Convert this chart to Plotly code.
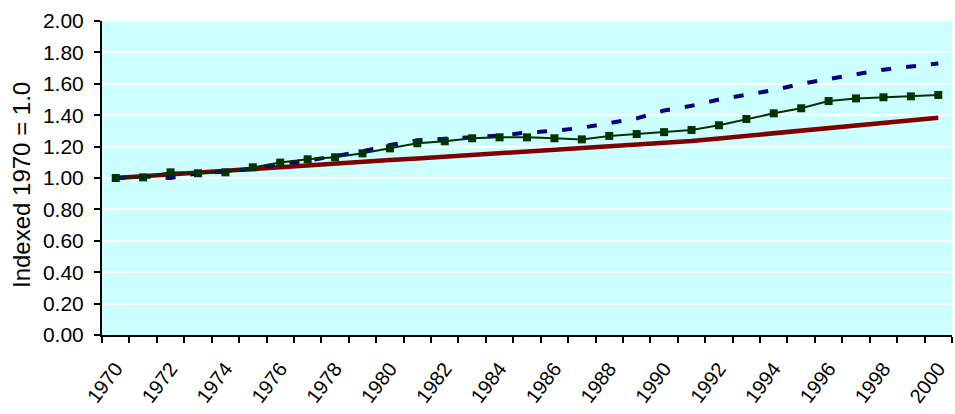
import plotly.graph_objects as go

years = [str(y) for y in range(1970, 2001)]
tick_labels = [y if int(y) % 2 == 0 else "" for y in years]

red_series = [1.00, 1.012, 1.023, 1.034, 1.045, 1.057, 1.068, 1.079, 1.091, 1.103, 1.114,
              1.124, 1.135, 1.145, 1.156, 1.166, 1.177, 1.188, 1.199, 1.209, 1.221,
              1.236, 1.252, 1.268, 1.284, 1.300, 1.317, 1.333, 1.350, 1.367, 1.384]

blue_series = [1.00, 1.01, 1.00, 1.03, 1.04, 1.06, 1.09, 1.11, 1.14, 1.17, 1.21,
               1.24, 1.25, 1.26, 1.27, 1.29, 1.30, 1.32, 1.35, 1.38, 1.43,
               1.46, 1.50, 1.53, 1.56, 1.60, 1.63, 1.66, 1.69, 1.71, 1.73]

green_series = [1.00, 1.004, 1.036, 1.03, 1.036, 1.068, 1.098, 1.119, 1.132, 1.157, 1.189,
                1.221, 1.234, 1.253, 1.259, 1.259, 1.253, 1.246, 1.268, 1.280, 1.292,
                1.306, 1.336, 1.376, 1.412, 1.444, 1.490, 1.507, 1.514, 1.520, 1.529]

y_ticks = [0.0, 0.2, 0.4, 0.6, 0.8, 1.0, 1.2, 1.4, 1.6, 1.8, 2.0]
y_title = "Indexed 1970 = 1.0"

fig = go.Figure()
fig.add_trace(go.Scatter(x=years, y=red_series, mode="lines",
                         line=dict(color="#800000", width=4.5), showlegend=False))
fig.add_trace(go.Scatter(x=years, y=blue_series, mode="lines",
                         line=dict(color="#000080", width=4, dash="10px,15px"), showlegend=False))
fig.add_trace(go.Scatter(x=years, y=green_series, mode="lines+markers",
                         line=dict(color="#003300", width=2),
                         marker=dict(symbol="square", size=8, color="#003300"),
                         showlegend=False))

font_family = "Arial, Liberation Sans, sans-serif"
fig.update_layout(
    width=955, height=414,
    margin=dict(l=102, r=3, t=21, b=79, autoexpand=False),
    paper_bgcolor="white",
    plot_bgcolor="#CCFFFF",
    font=dict(family=font_family, size=21, color="black"),
    xaxis=dict(
        type="category",
        range=[-0.5, 30.5],
        tickmode="array", tickvals=years, ticktext=tick_labels,
        tickson="boundaries",
        ticks="outside", ticklen=6, tickwidth=2, tickcolor="black",
        tickangle=-53,
        ticklabelstandoff=12,
        automargin=False,
        showgrid=False,
        showline=True, linecolor="black", linewidth=2,
        tickfont=dict(size=20),
        zeroline=False,
    ),
    yaxis=dict(
        range=[0, 2],
        tickmode="array", tickvals=y_ticks,
        tickformat=".2f",
        ticks="outside", ticklen=6, tickwidth=2, tickcolor="black",
        ticklabelstandoff=6,
        automargin=False,
        showgrid=True, gridcolor="white", gridwidth=2,
        showline=True, linecolor="black", linewidth=2,
        zeroline=False,
        tickfont=dict(size=21),
    ),
    annotations=[dict(
        text=y_title, textangle=-90,
        xref="paper", yref="paper", x=0, y=0.5,
        xanchor="center", yanchor="middle",
        xshift=-81, yshift=-7, showarrow=False,
        font=dict(size=24, family=font_family, color="black"),
    )],
)

fig.write_html("out.html")
